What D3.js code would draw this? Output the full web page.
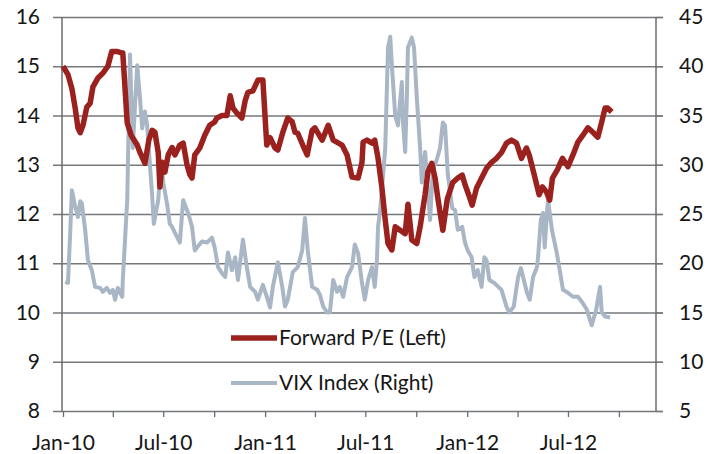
<!DOCTYPE html>
<html>
<head>
<meta charset="utf-8">
<script src="https://cdn.jsdelivr.net/npm/d3@7"></script>
<style>
  body { margin: 0; background: #fff; }
  svg text { font-family: Lato, "Open Sans", sans-serif; fill: #161616; }
</style>
</head>
<body>
<div id="container"></div>
<script>
const w = 707
const h = 454

// Forward P/E (left axis)
const peDates = ['2010-01-01','2010-01-10','2010-01-17','2010-01-23','2010-01-28','2010-02-01','2010-02-06','2010-02-13','2010-02-19','2010-02-24','2010-03-05','2010-03-14','2010-03-23','2010-03-30','2010-04-09','2010-04-14','2010-04-19','2010-04-27','2010-05-04','2010-05-15','2010-05-20','2010-05-29','2010-06-05','2010-06-11','2010-06-16','2010-06-22','2010-06-25','2010-06-29','2010-07-04','2010-07-10','2010-07-17','2010-07-22','2010-07-31','2010-08-06','2010-08-13','2010-08-18','2010-08-22','2010-08-27','2010-09-05','2010-09-14','2010-09-23','2010-10-02','2010-10-06','2010-10-15','2010-10-24','2010-10-30','2010-11-04','2010-11-11','2010-11-20','2010-11-26','2010-12-01','2010-12-10','2010-12-19','2010-12-28','2011-01-04','2011-01-10','2011-01-19','2011-01-24','2011-02-02','2011-02-11','2011-02-19','2011-02-24','2011-03-01','2011-03-10','2011-03-18','2011-03-27','2011-04-01','2011-04-14','2011-04-25','2011-05-04','2011-05-20','2011-05-29','2011-06-07','2011-06-18','2011-06-25','2011-06-27','2011-07-04','2011-07-13','2011-07-18','2011-07-24','2011-07-31','2011-08-06','2011-08-11','2011-08-18','2011-08-24','2011-09-02','2011-09-11','2011-09-16','2011-09-23','2011-10-02','2011-10-08','2011-10-17','2011-10-22','2011-10-29','2011-11-04','2011-11-09','2011-11-18','2011-11-26','2011-12-06','2011-12-15','2011-12-23','2011-12-28','2012-01-05','2012-01-10','2012-01-18','2012-01-27','2012-02-05','2012-02-14','2012-02-23','2012-03-03','2012-03-12','2012-03-21','2012-03-30','2012-04-08','2012-04-17','2012-04-22','2012-05-01','2012-05-10','2012-05-16','2012-05-23','2012-05-29','2012-06-03','2012-06-12','2012-06-21','2012-07-01','2012-07-10','2012-07-19','2012-07-28','2012-08-06','2012-08-15','2012-08-24','2012-08-31','2012-09-06','2012-09-11','2012-09-18']
const peValues = [15.0,14.83,14.55,14.15,13.75,13.65,13.8,14.17,14.25,14.58,14.76,14.86,15.0,15.3,15.3,15.28,15.27,13.85,13.6,13.4,13.25,13.03,13.5,13.7,13.66,13.25,12.55,13.05,12.85,13.2,13.35,13.2,13.4,13.44,13.0,12.8,12.73,13.2,13.34,13.6,13.8,13.87,13.95,14.0,14.0,14.4,14.15,14.05,13.95,14.3,14.47,14.5,14.72,14.72,13.4,13.55,13.34,13.3,13.66,13.95,13.87,13.66,13.64,13.4,13.2,13.7,13.75,13.5,13.8,13.5,13.4,13.2,12.75,12.73,13.05,13.46,13.5,13.44,13.5,13.13,12.53,11.88,11.4,11.27,11.74,11.67,11.6,12.2,11.47,11.4,11.74,12.4,12.85,13.03,12.73,12.32,11.67,12.3,12.64,12.73,12.79,12.6,12.35,12.18,12.53,12.73,12.93,13.05,13.13,13.25,13.44,13.5,13.44,13.13,13.34,13.2,12.8,12.39,12.55,12.45,12.28,12.73,12.9,13.13,12.96,13.2,13.46,13.6,13.75,13.66,13.56,13.87,14.15,14.15,14.07]

// VIX Index (right axis)
const vixDates = ['2010-01-05','2010-01-10','2010-01-14','2010-01-17','2010-01-19','2010-01-23','2010-01-26','2010-01-28','2010-02-01','2010-02-04','2010-02-10','2010-02-15','2010-02-22','2010-02-28','2010-03-09','2010-03-14','2010-03-21','2010-03-27','2010-04-01','2010-04-05','2010-04-10','2010-04-18','2010-04-19','2010-04-27','2010-05-02','2010-05-07','2010-05-15','2010-05-20','2010-05-24','2010-05-29','2010-06-02','2010-06-07','2010-06-11','2010-06-14','2010-06-22','2010-06-27','2010-07-01','2010-07-08','2010-07-13','2010-07-17','2010-07-22','2010-07-31','2010-08-06','2010-08-15','2010-08-22','2010-08-27','2010-08-31','2010-09-09','2010-09-18','2010-09-27','2010-10-02','2010-10-08','2010-10-15','2010-10-21','2010-10-26','2010-11-02','2010-11-08','2010-11-13','2010-11-22','2010-11-29','2010-12-05','2010-12-14','2010-12-19','2010-12-28','2011-01-04','2011-01-10','2011-01-15','2011-01-24','2011-02-01','2011-02-06','2011-02-11','2011-02-20','2011-03-01','2011-03-09','2011-03-14','2011-03-19','2011-03-27','2011-04-05','2011-04-10','2011-04-16','2011-04-23','2011-04-28','2011-05-04','2011-05-11','2011-05-16','2011-05-22','2011-05-29','2011-06-07','2011-06-12','2011-06-18','2011-06-25','2011-06-30','2011-07-06','2011-07-13','2011-07-18','2011-07-22','2011-07-24','2011-07-28','2011-08-06','2011-08-11','2011-08-15','2011-08-18','2011-08-24','2011-08-29','2011-09-05','2011-09-07','2011-09-11','2011-09-14','2011-09-16','2011-09-23','2011-09-27','2011-10-02','2011-10-08','2011-10-11','2011-10-17','2011-10-20','2011-10-26','2011-10-31','2011-11-07','2011-11-13','2011-11-18','2011-11-22','2011-11-27','2011-12-05','2011-12-10','2011-12-15','2011-12-23','2011-12-28','2012-01-02','2012-01-09','2012-01-14','2012-01-20','2012-01-27','2012-02-01','2012-02-05','2012-02-10','2012-02-19','2012-03-03','2012-03-12','2012-03-17','2012-03-25','2012-04-02','2012-04-07','2012-04-11','2012-04-18','2012-04-23','2012-04-29','2012-05-06','2012-05-08','2012-05-13','2012-05-17','2012-05-20','2012-05-24','2012-05-26','2012-06-02','2012-06-11','2012-06-17','2012-06-22','2012-07-01','2012-07-10','2012-07-19','2012-07-26','2012-08-04','2012-08-10','2012-08-13','2012-08-21','2012-08-24','2012-08-28','2012-08-31','2012-09-06','2012-09-15']
const vixValues = [18.1,18.0,23.1,27.4,26.9,25.7,25.2,24.7,26.3,26.1,23.4,20.3,19.3,17.6,17.5,17.1,17.5,17.0,17.3,16.3,17.5,16.6,18.3,26.4,41.2,31.7,40.1,36.8,33.7,35.4,34.0,30.0,26.9,24.0,26.4,30.3,28.2,26.0,24.0,23.7,23.1,22.1,26.4,25.1,23.7,21.3,21.6,22.2,22.1,22.6,21.6,19.6,19.0,18.6,21.1,19.3,20.6,18.3,22.4,19.6,17.6,17.1,16.3,17.8,16.6,15.5,17.6,20.1,17.6,15.6,16.3,19.1,19.6,21.3,24.6,21.3,17.6,17.3,16.8,15.6,15.0,15.0,18.3,17.1,17.6,16.6,18.6,19.6,21.9,21.0,18.0,16.3,18.3,19.6,17.6,20.3,23.7,25.5,31.7,41.9,43.0,40.1,35.0,34.0,38.4,34.3,31.3,36.8,41.9,42.9,41.9,36.8,31.7,28.2,31.3,29.0,24.4,29.5,30.5,31.7,34.3,34.0,29.0,25.6,25.4,23.4,23.7,22.1,21.3,20.6,18.6,19.3,17.6,20.6,20.3,18.3,18.0,17.3,15.6,15.0,15.6,18.6,19.5,18.6,17.0,16.3,18.6,19.6,20.6,24.4,25.1,21.6,25.1,26.4,23.4,21.0,19.0,17.3,17.0,16.6,16.6,16.1,15.3,14.2,13.7,15.3,16.3,17.6,15.0,14.6,14.5]

const leftTicks = [8, 9, 10, 11, 12, 13, 14, 15, 16]
const rightTicks = [5, 10, 15, 20, 25, 30, 35, 40, 45]
const seriesNames = ['Forward P/E (Left)', 'VIX Index (Right)']
const seriesColors = ['#9a211e', '#a9b6c5']

const parse = d3.timeParse('%Y-%m-%d')
const pe = peDates.map((d, i) => ({ date: parse(d), v: peValues[i] }))
const vix = vixDates.map((d, i) => ({ date: parse(d), v: vixValues[i] }))

const plotLeft = 62, plotRight = 656, plotTop = 17, plotBottom = 411

const x = d3.scaleTime([parse('2010-01-01'), parse('2012-12-07')], [63, plotRight])
const yL = d3.scaleLinear([8, 16], [plotBottom, plotTop])
const yR = d3.scaleLinear([5, 45], [plotBottom, plotTop])

const svg = d3.select('#container')
    .append('svg')
    .attr('width', w)
    .attr('height', h)

// gridlines + left labels
const gl = svg.append('g')
    .attr('transform', `translate(663,0)`)
    .call(d3.axisLeft(yL).tickValues(leftTicks).tickSize(610).tickPadding(13))
gl.select('.domain').remove()
gl.selectAll('line').attr('stroke', '#75787b').attr('stroke-width', 1.3)
gl.selectAll('text').style('font-size', '21px')

const gr = svg.append('g')
    .attr('transform', `translate(${plotRight},0)`)
    .call(d3.axisRight(yR).tickValues(rightTicks).tickSize(7).tickPadding(16))
gr.select('.domain').remove()
gr.selectAll('line').attr('stroke', '#75787b').attr('stroke-width', 1.3)
gr.selectAll('text').style('font-size', '21px')

// axis lines
svg.append('line').attr('x1', plotLeft).attr('x2', plotLeft).attr('y1', plotTop).attr('y2', plotBottom)
    .attr('stroke', '#6a6d70').attr('stroke-width', 1.5)
svg.append('line').attr('x1', plotRight).attr('x2', plotRight).attr('y1', plotTop).attr('y2', plotBottom)
    .attr('stroke', '#6a6d70').attr('stroke-width', 1.5)

const fmt = d3.timeFormat('%b-%y')
const gx = svg.append('g')
    .attr('transform', `translate(0,${plotBottom})`)
    .call(d3.axisBottom(x)
        .ticks(d3.timeMonth.every(3))
        .tickSize(6)
        .tickPadding(18)
        .tickFormat(d => (d.getMonth() % 6 === 0 ? fmt(d) : '')))
gx.select('.domain').remove()
gx.selectAll('line').attr('stroke', '#6a6d70').attr('stroke-width', 1.3)
gx.selectAll('text').style('font-size', '21px')

// series
const lineL = d3.line().x(d => x(d.date)).y(d => yL(d.v))
const lineR = d3.line().x(d => x(d.date)).y(d => yR(d.v))

svg.append('path')
    .datum(vix)
    .attr('d', lineR)
    .attr('fill', 'none')
    .attr('stroke', seriesColors[1])
    .attr('stroke-width', 4)
    .attr('stroke-linejoin', 'round')

svg.append('path')
    .datum(pe)
    .attr('d', lineL)
    .attr('fill', 'none')
    .attr('stroke', seriesColors[0])
    .attr('stroke-width', 5.5)
    .attr('stroke-linejoin', 'round')

// legend
const legend = svg.append('g').attr('transform', 'translate(231,338)')
seriesNames.forEach((name, i) => {
    const g = legend.append('g').attr('transform', `translate(0,${i * 45})`)
    g.append('line')
        .attr('x1', 0).attr('x2', 46)
        .attr('stroke', seriesColors[i])
        .attr('stroke-width', i === 0 ? 5.5 : 4)
    g.append('text')
        .attr('x', 48)
        .attr('dy', '0.35em')
        .style('font-size', '21px')
        .text(name)
})
</script>
</body>
</html>
